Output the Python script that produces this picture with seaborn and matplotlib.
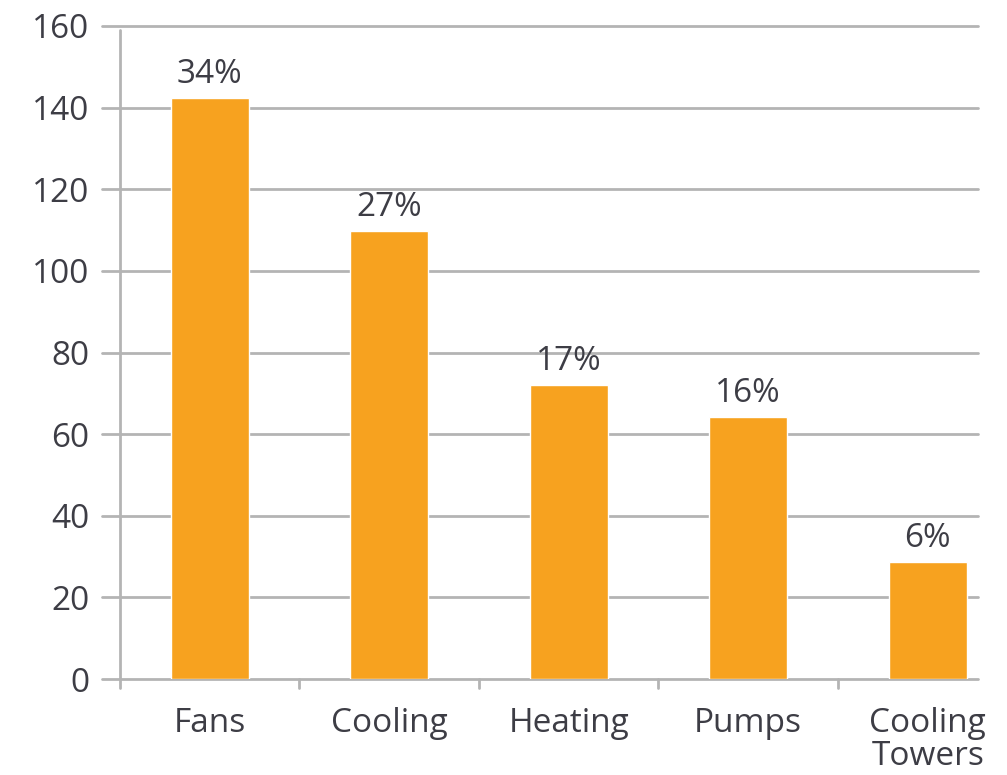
import matplotlib
matplotlib.use("Agg")
import matplotlib.pyplot as plt
import seaborn as sns
import pandas as pd

# HVAC energy use by end use
categories = ["Fans", "Cooling", "Heating", "Pumps", "Cooling\nTowers"]
values = [142.3, 109.8, 72.0, 64.1, 28.7]
share_labels = ["34%", "27%", "17%", "16%", "6%"]
y_ticks = [0, 20, 40, 60, 80, 100, 120, 140, 160]

sns.set_theme(style="white")
plt.rcParams["font.family"] = ["Open Sans", "DejaVu Sans"]

TEXT = "#3d3d45"
GRID = "#b4b4b4"
BAR = "#F7A21F"
FS = 24

df = pd.DataFrame({"category": categories, "value": values})

fig = plt.figure(figsize=(10.07, 7.75), dpi=100)
ax = fig.add_axes([102 / 1007, 96 / 775, 876 / 1007, 653 / 775])

sns.barplot(data=df, x="category", y="value", color=BAR, width=0.435,
            saturation=1, ax=ax, zorder=3)

ax.set_ylim(0, 160)
ax.set_xlim(-0.6, 4.28)
ax.set_yticks(y_ticks)
ax.set_yticklabels([str(t) for t in y_ticks])

for t in y_ticks:
    ax.axhline(t, color=GRID, lw=2, zorder=1, clip_on=False)

# left axis line and category separators
ax.plot([-0.5, -0.5], [-2.2, 159], color=GRID, lw=2, zorder=2, clip_on=False)
for xb in [0.5, 1.5, 2.5, 3.5]:
    ax.plot([xb, xb], [0, -2.2], color=GRID, lw=2, zorder=2, clip_on=False)

for s in ax.spines.values():
    s.set_visible(False)

ax.tick_params(axis="both", length=0, labelsize=FS, labelcolor=TEXT)
ax.tick_params(axis="y", pad=9)
ax.tick_params(axis="x", pad=20)
for lbl in ax.get_xticklabels():
    lbl.set_linespacing(1.0)
ax.set_xlabel("")
ax.set_ylabel("")

for i, (v, lab) in enumerate(zip(values, share_labels)):
    ax.text(i, v + 1.8, lab, ha="center", va="bottom", fontsize=FS, color=TEXT)

fig.savefig("out.png", dpi=100)
